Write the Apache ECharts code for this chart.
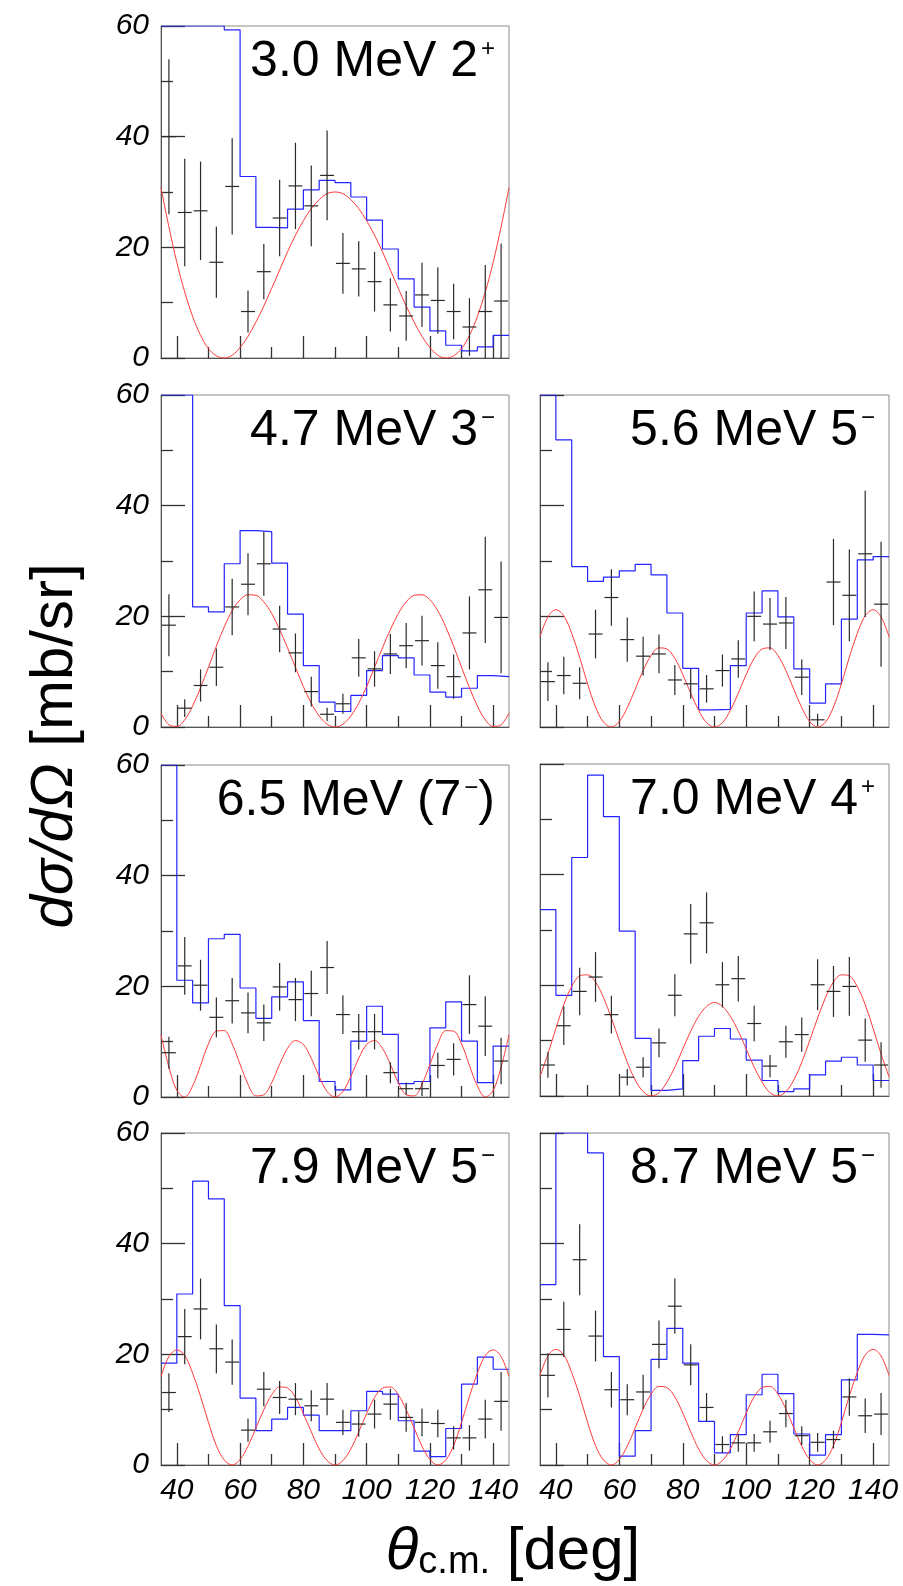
<!DOCTYPE html>
<html><head><meta charset="utf-8">
<script src="https://cdn.jsdelivr.net/npm/echarts@6/dist/echarts.min.js"></script>
<style>html,body{margin:0;padding:0;background:#fff}#c{width:903px;height:1586px}</style>
</head><body><div id="c"></div>
<script>
// ---------- data ----------
const angles = [37.5,42.5,47.5,52.5,57.5,62.5,67.5,72.5,77.5,82.5,87.5,92.5,97.5,102.5,107.5,112.5,117.5,122.5,127.5,132.5,137.5,142.5];
const binEdges = [35,40,45,50,55,60,65,70,75,80,85,90,95,100,105,110,115,120,125,130,135,140,145];
const curveAngles = [35,37.5,40,42.5,45,47.5,50,52.5,55,57.5,60,62.5,65,67.5,70,72.5,75,77.5,80,82.5,85,87.5,90,92.5,95,97.5,100,102.5,105,107.5,110,112.5,115,117.5,120,122.5,125,127.5,130,132.5,135,137.5,140,142.5,145];
const xMajorTicks = [40,60,80,100,120,140];
const xMinorTicks = [50,70,90,110,130];

// 3.0 MeV 2+
const p1Val  = [40.0,26.3,26.6,17.3,31.0,8.4,15.6,25.3,31.1,27.5,33.0,17.1,16.1,13.8,9.6,7.6,11.4,10.4,8.4,5.6,8.4,10.3];
const p1Err  = [14.0,9.7,8.9,6.4,8.7,3.8,5.0,6.9,7.8,7.3,8.1,5.5,5.0,5.4,4.8,4.5,5.8,6.0,5.0,5.2,8.4,10.4];
const p1Hist = [60,60,60,60,59.3,32.8,23.6,23.5,26.9,30.4,32.1,31.7,29.1,24.9,19.7,14.3,9.2,4.9,2.3,1.3,2.0,4.1];
const p1Curve = [30.8,23.7,17.3,11.9,7.5,4.1,1.7,0.4,0.0,0.5,1.9,3.9,6.5,9.4,12.6,15.9,19.2,22.2,24.8,27.0,28.6,29.7,30.0,29.7,28.6,27.0,24.8,22.2,19.2,15.9,12.6,9.4,6.5,3.9,1.9,0.5,0.0,0.4,1.7,4.1,7.5,11.9,17.3,23.7,30.8];

// 4.7 MeV 3-
const p2Val  = [18.4,3.4,7.5,10.8,21.7,25.8,29.5,17.7,13.4,6.4,2.3,4.2,12.5,10.5,13.2,14.7,15.6,11.1,9.1,17.0,24.8,19.8];
const p2Err  = [5.6,1.6,2.9,3.4,5.1,5.6,5.8,4.2,3.5,2.7,1.2,1.8,3.4,3.2,3.6,4.1,4.5,4.2,4.0,6.6,9.6,10.1];
const p2Hist = [60,60,21.7,20.8,29.5,35.5,35.3,29.6,20.4,11.1,4.5,2.8,5.7,10.2,12.9,12.5,9.4,6.3,5.4,7.0,9.3,9.1];
const p2Curve = [2.5,0.4,0.1,1.3,3.8,7.1,10.8,14.6,18.1,21.0,23.0,23.9,23.8,22.6,20.5,17.6,14.3,10.8,7.3,4.3,2.0,0.5,0.0,0.5,2.0,4.3,7.3,10.8,14.3,17.6,20.5,22.6,23.8,23.9,23.0,21.0,18.1,14.6,10.8,7.1,3.8,1.3,0.1,0.4,2.5];

// 5.6 MeV 5-
const p3Val  = [8.2,9.3,7.9,16.8,23.4,15.8,12.8,13.2,8.5,7.8,6.9,10.2,12.3,20.0,18.6,18.8,9.0,1.3,26.2,23.8,31.3,22.2];
const p3Err  = [3.5,3.4,2.9,4.4,5.1,4.0,3.5,3.5,2.7,2.7,2.5,2.9,3.4,4.5,4.7,4.7,3.2,1.1,7.8,8.3,11.4,11.3];
const p3Hist = [60,51.9,29.0,26.3,27.1,28.2,29.4,27.5,20.6,10.6,3.1,3.2,11.1,20.6,24.6,19.9,10.5,4.3,7.8,19.5,30.2,30.8];
const p3Curve = [16.3,19.9,21.2,20.1,16.9,12.6,7.8,3.6,0.9,0.0,1.0,3.5,6.8,10.2,12.9,14.3,14.1,12.4,9.5,6.1,3.0,0.8,0.0,0.8,3.0,6.1,9.5,12.4,14.1,14.3,12.9,10.2,6.8,3.5,1.0,0.0,0.9,3.6,7.8,12.6,16.9,20.1,21.2,19.9,16.3];

// 6.5 MeV (7-)
const p4Val  = [8.0,23.7,20.2,14.4,17.4,15.2,13.4,19.9,17.6,18.7,23.4,14.9,11.8,11.8,4.4,1.5,1.5,5.7,6.8,16.7,12.8,6.5];
const p4Err  = [2.9,5.2,4.6,3.6,4.1,3.7,3.3,4.3,3.9,4.1,4.8,3.5,3.2,3.2,1.9,1.1,1.3,2.3,2.9,5.3,5.4,4.2];
const p4Hist = [60,21.1,17.0,28.6,29.4,19.7,14.2,18.1,20.8,13.8,2.8,1.3,10.1,16.4,11.3,2.4,2.8,12.5,17.2,10.1,2.6,9.2];
const p4Curve = [11.2,5.4,1.2,0.0,2.0,5.7,9.6,11.9,12.0,9.6,5.9,2.3,0.2,0.4,2.6,5.9,8.8,10.2,9.5,7.0,3.7,1.0,0.0,1.0,3.7,7.0,9.5,10.2,8.8,5.9,2.6,0.4,0.2,2.3,5.9,9.6,12.0,11.9,9.6,5.7,2.0,0.0,1.2,5.4,11.2];

// 7.0 MeV 4+
const p5Val  = [5.6,12.7,18.9,21.5,14.7,3.4,5.2,9.6,18.2,29.3,31.3,20.1,21.2,13.1,5.4,9.8,11.1,20.1,18.9,19.8,10.1,5.6];
const p5Err  = [2.3,3.5,4.3,4.5,3.4,1.5,1.8,2.6,3.8,5.4,5.5,4.1,4.1,3.2,2.0,2.9,3.1,4.6,4.6,5.3,3.9,4.1];
const p5Hist = [33.7,18.2,43.1,58.0,50.5,29.8,10.4,1.0,1.3,6.4,10.8,12.2,10.3,6.5,2.8,0.8,1.3,3.8,6.3,7.0,5.6,2.8];
const p5Curve = [3.5,7.6,12.2,16.5,19.8,21.7,21.9,20.6,17.8,14.1,10.0,6.1,2.9,0.8,0.0,0.6,2.5,5.2,8.5,11.7,14.4,16.2,16.9,16.2,14.4,11.7,8.5,5.2,2.5,0.6,0.0,0.8,2.9,6.1,10.0,14.1,17.8,20.6,21.9,21.7,19.8,16.5,12.2,7.6,3.5];

// 7.9 MeV 5-
const p6Val  = [13.1,23.2,28.2,21.0,18.6,6.3,13.7,12.2,11.9,10.7,11.9,7.7,7.4,9.2,11.0,8.6,7.7,7.5,4.9,4.9,8.3,11.5];
const p6Err  = [3.5,5.0,5.5,4.4,4.1,2.1,3.1,3.0,2.9,2.8,2.9,2.3,2.3,2.6,2.8,2.6,2.5,2.5,2.1,2.3,3.5,5.3];
const p6Hist = [18.4,30.9,51.3,48.1,28.8,12.1,6.2,8.3,10.4,9.0,6.2,6.2,9.8,13.3,12.8,8.0,2.5,1.5,6.6,14.6,19.5,17.3];
const p6Curve = [16.0,19.6,20.8,19.8,16.6,12.4,7.7,3.5,0.9,0.0,1.0,3.4,6.7,10.0,12.7,14.1,13.9,12.2,9.3,6.0,2.9,0.8,0.0,0.8,2.9,6.0,9.3,12.2,13.9,14.1,12.7,10.0,6.7,3.4,1.0,0.0,0.9,3.5,7.7,12.4,16.6,19.8,20.8,19.6,16.0];

// 8.7 MeV 5-
const p7Val  = [16.2,24.5,37.1,23.3,13.6,11.8,13.2,21.8,28.7,18.1,10.4,3.7,4.0,4.0,6.0,9.3,5.3,4.1,4.6,12.3,8.9,9.2];
const p7Err  = [4.0,5.0,6.4,4.6,3.2,2.8,3.1,4.3,5.0,3.7,2.6,1.5,1.6,1.6,2.0,2.5,1.7,1.7,1.6,3.4,3.1,3.8];
const p7Hist = [32.6,60,60,56.4,19.6,1.6,6.2,19.1,24.7,18.4,7.9,2.2,5.5,12.7,16.4,12.9,5.6,1.8,5.5,15.4,23.6,23.5];
const p7Curve = [16.2,19.7,20.9,19.9,16.7,12.5,7.7,3.5,0.9,0.0,1.0,3.4,6.7,10.1,12.8,14.2,14.0,12.3,9.4,6.0,2.9,0.8,0.0,0.8,2.9,6.0,9.4,12.3,14.0,14.2,12.8,10.1,6.7,3.4,1.0,0.0,0.9,3.5,7.7,12.5,16.7,19.9,20.9,19.7,16.2];

const panelLabels = [
  [['m','3.0 MeV 2'],['s','+']],
  [['m','4.7 MeV 3'],['s','\u2212']],
  [['m','5.6 MeV 5'],['s','\u2212']],
  [['m','6.5 MeV (7'],['s','\u2212'],['m',')']],
  [['m','7.0 MeV 4'],['s','+']],
  [['m','7.9 MeV 5'],['s','\u2212']],
  [['m','8.7 MeV 5'],['s','\u2212']]
];
const yTitle = [['i','d\u03c3/d\u03a9'],['n',' [mb/sr]']];
const xTitle = [['t','\u03b8'],['b','c.m.'],['n',' [deg]']];

// ---------- layout ----------
const FONT = '"Liberation Sans", Arial, Helvetica, sans-serif';
const L = 161, R = 540, W1 = 348, W2 = 349, H = 332;
const layout = [
  {left:L, top:26,   width:W1, yLab:true,  xLab:false},
  {left:L, top:395,  width:W1, yLab:true,  xLab:false},
  {left:R, top:395,  width:W2, yLab:false, xLab:false},
  {left:L, top:765,  width:W1, yLab:true,  xLab:false},
  {left:R, top:764,  width:W2, yLab:false, xLab:false},
  {left:L, top:1133, width:W1, yLab:true,  xLab:true},
  {left:R, top:1133, width:W2, yLab:false, xLab:true}
];
const panels = [
  {v:p1Val,e:p1Err,h:p1Hist,c:p1Curve},
  {v:p2Val,e:p2Err,h:p2Hist,c:p2Curve},
  {v:p3Val,e:p3Err,h:p3Hist,c:p3Curve},
  {v:p4Val,e:p4Err,h:p4Hist,c:p4Curve},
  {v:p5Val,e:p5Err,h:p5Hist,c:p5Curve},
  {v:p6Val,e:p6Err,h:p6Hist,c:p6Curve},
  {v:p7Val,e:p7Err,h:p7Hist,c:p7Curve}
];

const toRich = parts => parts.map(p => '{' + p[0] + '|' + p[1] + '}').join('');
const TICK = '#333';
const grids = [], xAxes = [], yAxes = [], series = [], graphics = [];

layout.forEach((g, i) => {
  grids.push({left:g.left, top:g.top, width:g.width, height:H, show:true,
    borderColor:'#8c8c8c', borderWidth:1, backgroundColor:'rgba(0,0,0,0)'});
  xAxes.push({type:'value', gridIndex:i, min:35, max:145, position:'bottom',
    axisLine:{show:true, onZero:false, lineStyle:{color:'#555', width:1}},
    splitLine:{show:false},
    axisTick:{show:true, inside:true, length:22, customValues:xMajorTicks, lineStyle:{color:TICK, width:1.3}},
    axisLabel:{show:g.xLab, customValues:xMajorTicks, margin:11, fontSize:30, fontStyle:'italic', fontFamily:FONT, color:'#000'}
  });
  xAxes.push({type:'value', gridIndex:i, min:35, max:145, position:'bottom',
    axisLine:{show:false, onZero:false}, splitLine:{show:false}, axisLabel:{show:false},
    axisTick:{show:true, inside:true, length:11, customValues:xMinorTicks, lineStyle:{color:TICK, width:1.3}}
  });
  yAxes.push({type:'value', gridIndex:i, min:0, max:60, interval:20,
    axisLine:{show:true, onZero:false, lineStyle:{color:'#555', width:1}},
    axisTick:{show:true, inside:true, length:24, lineStyle:{color:TICK, width:1.3}},
    minorTick:{show:true, splitNumber:2, length:12, lineStyle:{color:TICK, width:1.3}},
    splitLine:{show:false}, minorSplitLine:{show:false},
    axisLabel:{show:g.yLab, margin:12, fontSize:30, fontStyle:'italic', fontFamily:FONT, color:'#000'}
  });

  const p = panels[i];
  series.push({type:'line', xAxisIndex:2*i, yAxisIndex:i, step:'end', symbol:'none',
    lineStyle:{color:'#2424ff', width:1.2}, z:2,
    data: binEdges.map((b, k) => [b, p.h[Math.min(k, p.h.length - 1)]])});
  series.push({type:'line', xAxisIndex:2*i, yAxisIndex:i, smooth:0.35, symbol:'none',
    lineStyle:{color:'#ff3a3a', width:1}, z:3,
    data: curveAngles.map((a, k) => [a, p.c[k]])});
  series.push({type:'custom', xAxisIndex:2*i, yAxisIndex:i, clip:true, z:4,
    data: angles.map((a, k) => [a, p.v[k], p.e[k]]),
    renderItem: (params, api) => {
      const x = api.value(0), y = api.value(1), e = api.value(2);
      const lo = api.coord([x, y - e]), hi = api.coord([x, y + e]);
      const l = api.coord([x - 2.2, y]), r = api.coord([x + 2.2, y]);
      const st = {stroke:'#2a2a2a', lineWidth:1.2};
      return {type:'group', children:[
        {type:'line', shape:{x1:lo[0], y1:lo[1], x2:hi[0], y2:hi[1]}, style:st},
        {type:'line', shape:{x1:l[0], y1:l[1], x2:r[0], y2:r[1]}, style:st}
      ]};
    }});

  graphics.push({type:'text', x:g.left + g.width - 14, y:g.top + 11, z:10,
    style:{text:toRich(panelLabels[i]), align:'right', verticalAlign:'top', fill:'#000',
      rich:{
        m:{fontSize:50, lineHeight:50, fontFamily:FONT, fill:'#000', color:'#000'},
        s:{fontSize:24, lineHeight:35, verticalAlign:'top', fontFamily:FONT, fill:'#000', color:'#000', padding:[0,0,0,3]}
      }}});
});

graphics.push({type:'text', x:55, y:746, rotation:Math.PI/2, z:10,
  style:{text:toRich(yTitle), align:'center', verticalAlign:'middle', fill:'#000',
    rich:{
      i:{fontSize:60, lineHeight:60, fontStyle:'italic', fontFamily:FONT, fill:'#000', color:'#000'},
      n:{fontSize:60, lineHeight:60, fontFamily:FONT, fill:'#000', color:'#000'}
    }}});
graphics.push({type:'text', x:513, y:1552, z:10,
  style:{text:toRich(xTitle), align:'center', verticalAlign:'middle', fill:'#000',
    rich:{
      t:{fontSize:60, lineHeight:60, fontStyle:'italic', fontFamily:FONT, fill:'#000', color:'#000'},
      b:{fontSize:38, lineHeight:38, verticalAlign:'bottom', fontFamily:FONT, fill:'#000', color:'#000'},
      n:{fontSize:60, lineHeight:60, fontFamily:FONT, fill:'#000', color:'#000'}
    }}});

const chart = echarts.init(document.getElementById('c'), null, {renderer:'canvas'});
chart.setOption({
  animation:false,
  backgroundColor:'#fff',
  grid:grids, xAxis:xAxes, yAxis:yAxes, series:series, graphic:graphics
});
</script>
</body></html>
